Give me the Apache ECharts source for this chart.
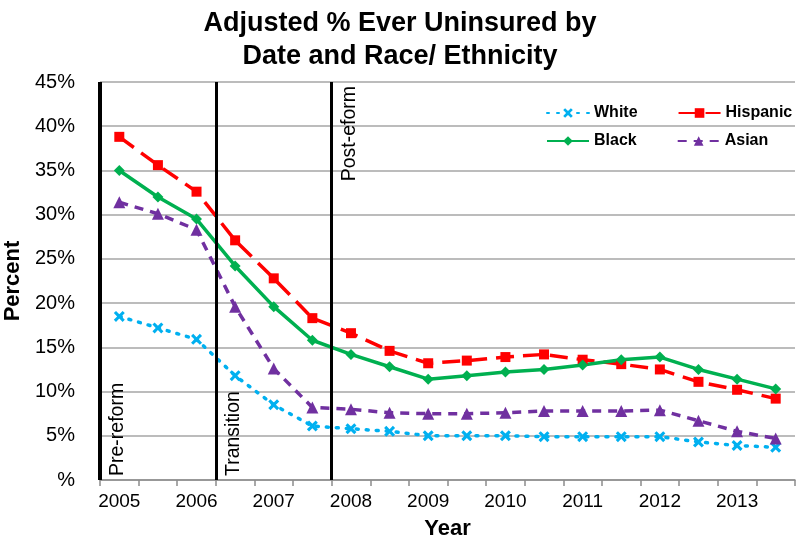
<!DOCTYPE html>
<html><head><meta charset="utf-8">
<script src="https://cdn.jsdelivr.net/npm/echarts@6/dist/echarts.min.js"></script>
<style>html,body{margin:0;padding:0;background:#fff}#c{width:800px;height:544px}</style>
</head><body><div id="c"></div>
<script>
var categories = ['2005','2005.5','2006','2006.5','2007','2007.5','2008','2008.5','2009','2009.5','2010','2010.5','2011','2011.5','2012','2012.5','2013','2013.5'];
var white =    [18.5,17.2,15.9,11.8,8.5,6.1,5.8,5.5,5.0,5.0,5.0,4.9,4.9,4.9,4.9,4.3,3.9,3.7];
var hispanic = [38.8,35.6,32.6,27.1,22.8,18.3,16.6,14.6,13.2,13.5,13.9,14.2,13.6,13.1,12.5,11.1,10.2,9.2];
var black =    [35.0,32.0,29.5,24.2,19.6,15.8,14.2,12.8,11.4,11.8,12.2,12.5,13.0,13.6,13.9,12.5,11.4,10.3];
var asian =    [31.4,30.1,28.3,19.6,12.6,8.2,8.0,7.6,7.5,7.5,7.6,7.8,7.8,7.8,7.9,6.7,5.5,4.7];
var periodBoundaries = [0, 3, 6];
var periodLabels = ['Pre-reform', 'Transition', 'Post-eform'];
var legendRow1 = ['White', 'Hispanic'];
var legendRow2 = ['Black', 'Asian'];

var xPath = 'path://M2,0 L5,3 L8,0 L10,2 L7,5 L10,8 L8,10 L5,7 L2,10 L0,8 L3,5 L0,2 Z';
var font = 'Arial, "Liberation Sans", sans-serif';
var legendText = {fontSize: 16, fontWeight: 'bold', color: '#000', fontFamily: font};
var chart = echarts.init(document.getElementById('c'));
chart.setOption({
  animation: false,
  textStyle: {fontFamily: font},
  title: {
    text: 'Adjusted % Ever Uninsured by\nDate and Race/ Ethnicity',
    left: 'center', top: 2,
    textStyle: {fontSize: 27, fontWeight: 'bold', color: '#000', lineHeight: 33, fontFamily: font}
  },
  legend: [{
    data: legendRow1, left: 541, top: 100,
    itemWidth: 42, itemHeight: 12, itemGap: 40, textStyle: legendText
  }, {
    data: legendRow2, left: 541, top: 128,
    itemWidth: 42, itemHeight: 12, itemGap: 40, textStyle: legendText
  }],
  grid: {left: 100, right: 5, top: 82, bottom: 64, containLabel: false, outerBoundsMode: 'none'},
  xAxis: [{
    type: 'category', data: categories, boundaryGap: true,
    name: 'Year', nameLocation: 'middle', nameGap: 38,
    nameTextStyle: {fontSize: 22, fontWeight: 'bold', color: '#000', fontFamily: font},
    axisLine: {lineStyle: {color: '#8c8c8c', width: 1.5}},
    axisTick: {show: true, interval: 0, length: 6, lineStyle: {color: '#8c8c8c', width: 1.5}},
    axisLabel: {interval: 1, fontSize: 19, color: '#000', margin: 12, fontFamily: font}
  }, {
    type: 'value', min: 0, max: categories.length, show: false
  }],
  yAxis: {
    type: 'value', min: 0, max: 45, interval: 5,
    name: 'Percent', nameLocation: 'middle', nameGap: 73, nameRotate: 90,
    nameTextStyle: {fontSize: 22, fontWeight: 'bold', color: '#000', fontFamily: font},
    axisLine: {show: false}, axisTick: {show: false},
    axisLabel: {fontSize: 20, color: '#000', margin: 25, fontFamily: font,
      formatter: function(v){ return v === 0 ? '%' : v + '%'; }},
    splitLine: {lineStyle: {color: '#a6a6a6', width: 1.5}}
  },
  series: [
    {name: 'White', type: 'line', data: white, color: '#00B0F0',
     symbol: xPath, symbolSize: 11,
     lineStyle: {width: 3.5, type: [2, 8], cap: 'round'}, itemStyle: {color: '#00B0F0'}},
    {name: 'Hispanic', type: 'line', data: hispanic, color: '#FF0000',
     symbol: 'rect', symbolSize: 10,
     lineStyle: {width: 3.5, type: [18, 9]}, itemStyle: {color: '#FF0000'}},
    {name: 'Black', type: 'line', data: black, color: '#00B050',
     symbol: 'diamond', symbolSize: 11,
     lineStyle: {width: 3.5, type: 'solid'}, itemStyle: {color: '#00B050'}},
    {name: 'Asian', type: 'line', data: asian, color: '#7030A0',
     symbol: 'triangle', symbolSize: 12,
     lineStyle: {width: 3.5, type: [9, 7]}, itemStyle: {color: '#7030A0'}},
    {name: 'periods', type: 'line', xAxisIndex: 1, data: [], silent: true,
     markLine: {
       symbol: 'none', silent: true,
       data: periodBoundaries.map(function(b, i){
         return {xAxis: b, name: periodLabels[i],
           lineStyle: {color: '#000', width: i === 0 ? 4 : 3, type: 'solid'},
           label: {show: true, formatter: periodLabels[i],
             position: i === 2 ? 'insideEndBottom' : 'insideStartBottom',
             distance: [4, 8],
             fontSize: 19.5, color: '#000', fontFamily: font}};
       })
     }}
  ]
});
</script></body></html>
